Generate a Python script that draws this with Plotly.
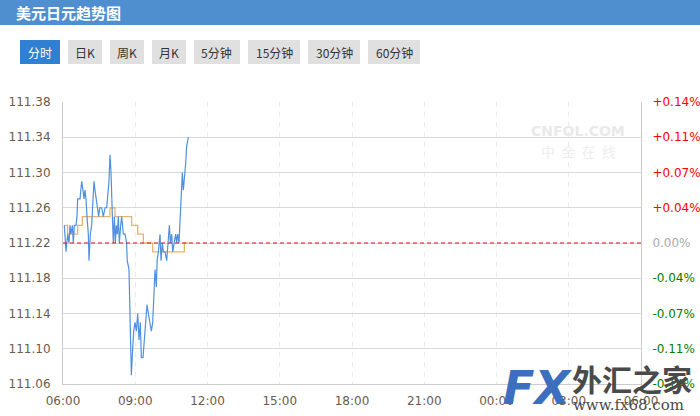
import plotly.graph_objects as go
from datetime import datetime, timedelta

# ---------------- data ----------------
TITLE = "美元日元趋势图"
BUTTON_LABELS = ["分时", "日K", "周K", "月K", "5分钟", "15分钟", "30分钟", "60分钟"]
PREV_CLOSE = 111.22
Y_TICKS = [111.38, 111.34, 111.30, 111.26, 111.22, 111.18, 111.14, 111.10, 111.06]
Y_TICK_LABELS = ["111.38", "111.34", "111.30", "111.26", "111.22", "111.18", "111.14", "111.10", "111.06"]
PCT_LABELS = ["+0.14%", "+0.11%", "+0.07%", "+0.04%", "0.00%", "-0.04%", "-0.07%", "-0.11%", "-0.14%"]
X_TICK_HOURS = [0, 3, 6, 9, 12, 15, 18, 21, 24]
X_TICK_LABELS = ["06:00", "09:00", "12:00", "15:00", "18:00", "21:00", "00:00", "03:00", "06:00"]

# minutes after 06:00
price_minutes = [3.3, 7.5, 11.6, 15, 17.4, 19.9, 23.3, 25.7, 28.2, 32.4, 34.9, 36.5, 42.4, 46.5,
                 49.8, 52.3, 54.8, 57.3, 59.8, 63.1, 64.8, 68.1, 71.4, 74.8, 77.2, 79.7, 83.1,
                 86.4, 88.9, 91.4, 96.3, 100.5, 104.7, 108.8, 111.3, 114.6, 117.1, 119.6, 123,
                 125.4, 127.9, 130.4, 132.9, 135.4, 137.9, 140.4, 143.7, 146.2, 150.3, 154.5,
                 158.6, 160, 164.4, 167.8, 170.3, 173.6, 176.1, 179.4, 182.7, 186.1, 189.4,
                 192.7, 195.2, 199.3, 202.6, 206, 209.3, 212.6, 216.8, 220.1, 223.5, 226,
                 229.3, 232.6, 234.5, 237.6, 241.7, 244.2, 247.5, 250, 254.2, 258.3, 262.5,
                 265, 267.5, 270.8, 273.3, 276.6, 280.7, 283.2, 285.7, 289, 292.3, 294.8,
                 297.3, 299.8, 302.3, 305.6, 308.1, 310.6, 312.3]
price_values = [111.24, 111.21, 111.23, 111.22, 111.24, 111.23, 111.24, 111.22, 111.24, 111.24,
                111.25, 111.27, 111.27, 111.29, 111.28, 111.27, 111.28, 111.27, 111.25, 111.23,
                111.20, 111.23, 111.24, 111.27, 111.29, 111.28, 111.27, 111.26, 111.25, 111.26,
                111.26, 111.25, 111.26, 111.26, 111.27, 111.29, 111.32, 111.30, 111.25, 111.22,
                111.25, 111.22, 111.24, 111.23, 111.25, 111.22, 111.24, 111.25, 111.23, 111.23,
                111.22, 111.20, 111.19, 111.13, 111.07, 111.10, 111.12, 111.13, 111.12, 111.14,
                111.11, 111.13, 111.09, 111.09, 111.11, 111.14, 111.15, 111.14, 111.13, 111.12,
                111.13, 111.16, 111.19, 111.17, 111.20, 111.21, 111.23, 111.20, 111.22, 111.21,
                111.21, 111.20, 111.22, 111.24, 111.22, 111.23, 111.21, 111.22, 111.23, 111.22,
                111.23, 111.22, 111.25, 111.27, 111.30, 111.28, 111.29, 111.31, 111.33, 111.34,
                111.34]

avg_minutes = [3.3, 11.6, 36.5, 48.2, 117.1, 129.6, 171.1, 186.1, 200.2, 223.5, 302.3, 312.3]
avg_values = [111.24, 111.23, 111.24, 111.25, 111.26, 111.25, 111.24, 111.23, 111.22, 111.21,
              111.22, 111.22]

# ---------------- layout helpers ----------------
W, H = 700, 416
L, R, T, B = 63, 641, 102, 384


def pxx(x):
    return (x - L) / (R - L)


def pxy(y):
    return (B - y) / (B - T)


base = datetime(2018, 6, 1, 6, 0)
to_dt = lambda m: base + timedelta(minutes=m)
x_start = base
x_end = base + timedelta(hours=24)
x_tickvals = [base + timedelta(hours=h) for h in X_TICK_HOURS]

pct_text = []
for lab in PCT_LABELS:
    if lab.startswith("+"):
        c = "#ff0000"
    elif lab.startswith("-"):
        c = "#008000"
    else:
        c = "#aaaaaa"
    pct_text.append(f'<span style="color:{c}">{lab}</span>')

fig = go.Figure()

fig.add_trace(go.Scatter(
    x=[to_dt(m) for m in avg_minutes], y=avg_values, mode="lines",
    line=dict(color="#e3b66c", width=1.3, shape="hv"), hoverinfo="skip", showlegend=False))
fig.add_trace(go.Scatter(
    x=[to_dt(m) for m in price_minutes], y=price_values, mode="lines",
    line=dict(color="#4f90e0", width=1.2), hoverinfo="skip", showlegend=False))
fig.add_trace(go.Scatter(
    x=[x_start, x_end], y=[PREV_CLOSE, PREV_CLOSE], mode="lines", yaxis="y2",
    line=dict(color="#dd1111", width=1.2, dash="4px,3px"), hoverinfo="skip", showlegend=False))

LAB_FONT = dict(family="DejaVu Sans", size=12, color="#6b5b4b")

fig.update_layout(
    width=W, height=H,
    margin=dict(l=L, r=W - R, t=T, b=H - B, pad=0, autoexpand=False),
    paper_bgcolor="white", plot_bgcolor="white",
    xaxis=dict(
        type="date", range=[x_start, x_end], tickvals=x_tickvals, ticktext=X_TICK_LABELS,
        showgrid=True, gridcolor="#ebebeb", griddash="5px,5px", gridwidth=1, automargin=False,
        showline=True, linecolor="#cccccc", linewidth=1, ticks="", zeroline=False,
        tickfont=LAB_FONT, ticklabelstandoff=6,
    ),
    yaxis=dict(
        range=[111.06, 111.38], tickvals=Y_TICKS, ticktext=Y_TICK_LABELS, automargin=False,
        showgrid=True, gridcolor="#d9d9d9", gridwidth=1, zeroline=False,
        showline=True, linecolor="#cccccc", linewidth=1, ticks="",
        tickfont=LAB_FONT, ticklabelstandoff=9,
    ),
    yaxis2=dict(
        range=[111.06, 111.38], tickvals=Y_TICKS, ticktext=pct_text, overlaying="y",
        side="right", showgrid=False, zeroline=False, showline=True, linecolor="#cccccc",
        linewidth=1, ticks="", tickfont=dict(family="DejaVu Sans", size=12, color="#aaaaaa"),
        ticklabelstandoff=8, automargin=False,
    ),
)

shapes = []
annots = []
CJK = "Noto Sans CJK SC"

# header bar
shapes.append(dict(type="rect", xref="paper", yref="paper", x0=pxx(0), x1=pxx(W),
                   y0=pxy(25), y1=pxy(0), fillcolor="#4f8fd0", line=dict(width=0), layer="above"))
annots.append(dict(text=f"<b>{TITLE}</b>", xref="paper", yref="paper", x=pxx(14), y=pxy(12.5),
                   xanchor="left", yanchor="middle", showarrow=False,
                   font=dict(family=CJK, size=15, color="white")))

# buttons
BTN_X = [(20, 60), (68, 102), (110, 144), (152, 186), (194, 240), (248, 300), (308, 360), (368, 420)]
for i, (lab, (x0, x1)) in enumerate(zip(BUTTON_LABELS, BTN_X)):
    active = i == 0
    shapes.append(dict(type="rect", xref="paper", yref="paper", x0=pxx(x0), x1=pxx(x1),
                       y0=pxy(64), y1=pxy(40), fillcolor="#2f7fd2" if active else "#e0e0e0",
                       line=dict(width=0), layer="above"))
    annots.append(dict(text=lab, xref="paper", yref="paper", x=pxx((x0 + x1) / 2), y=pxy(52),
                       xanchor="center", yanchor="middle", showarrow=False,
                       font=dict(family=CJK, size=12, color="white" if active else "#333333")))

# CNFOL watermark
annots.append(dict(text="<b>CNFOL.COM</b>", xref="paper", yref="paper", x=pxx(578), y=pxy(131),
                   xanchor="center", yanchor="middle", showarrow=False,
                   font=dict(family="DejaVu Sans", size=14, color="#e9e9e9")))
annots.append(dict(text="中  金  在  线", xref="paper", yref="paper", x=pxx(578), y=pxy(151),
                   xanchor="center", yanchor="middle", showarrow=False,
                   font=dict(family=CJK, size=14, color="#eeeeee")))

# FX68 logo watermark
annots.append(dict(text="<b><i>FX</i></b>", xref="paper", yref="paper", x=pxx(537), y=pxy(388),
                   xanchor="center", yanchor="middle", showarrow=False,
                   font=dict(family="DejaVu Sans", size=46, color="#3d6fc0")))
annots.append(dict(text="<b>外汇之家</b>", xref="paper", yref="paper", x=pxx(632), y=pxy(378),
                   xanchor="center", yanchor="middle", showarrow=False,
                   font=dict(family=CJK, size=30, color="#4a4a4a")))
annots.append(dict(text="www.fx68.com", xref="paper", yref="paper", x=pxx(628), y=pxy(405),
                   xanchor="center", yanchor="middle", showarrow=False,
                   font=dict(family="DejaVu Serif", size=15, color="#4a4a4a")))

fig.update_layout(shapes=shapes, annotations=annots)

fig.write_html("out.html", config={"displayModeBar": False, "staticPlot": True},
               post_script="document.body.style.margin='0';")
